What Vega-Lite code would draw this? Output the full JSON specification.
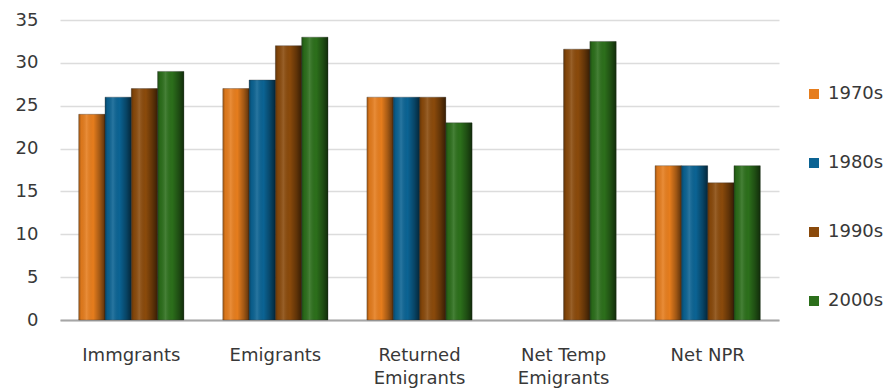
{
  "$schema": "https://vega.github.io/schema/vega-lite/v6.json",
  "autosize": {"type": "none"},
  "padding": {"left": 60, "top": 20, "right": 110, "bottom": 68},
  "width": 719,
  "height": 300,
  "background": "white",
  "config": {
    "view": {"stroke": null},
    "font": "DejaVu Sans"
  },
  "data": {
    "values": [
      {"category": "Immgrants", "decade": "1970s", "value": 24},
      {"category": "Immgrants", "decade": "1980s", "value": 26},
      {"category": "Immgrants", "decade": "1990s", "value": 27},
      {"category": "Immgrants", "decade": "2000s", "value": 29},
      {"category": "Emigrants", "decade": "1970s", "value": 27},
      {"category": "Emigrants", "decade": "1980s", "value": 28},
      {"category": "Emigrants", "decade": "1990s", "value": 32},
      {"category": "Emigrants", "decade": "2000s", "value": 33},
      {"category": "Returned Emigrants", "decade": "1970s", "value": 26},
      {"category": "Returned Emigrants", "decade": "1980s", "value": 26},
      {"category": "Returned Emigrants", "decade": "1990s", "value": 26},
      {"category": "Returned Emigrants", "decade": "2000s", "value": 23},
      {"category": "Net Temp Emigrants", "decade": "1990s", "value": 31.6},
      {"category": "Net Temp Emigrants", "decade": "2000s", "value": 32.5},
      {"category": "Net NPR", "decade": "1970s", "value": 18},
      {"category": "Net NPR", "decade": "1980s", "value": 18},
      {"category": "Net NPR", "decade": "1990s", "value": 16},
      {"category": "Net NPR", "decade": "2000s", "value": 18}
    ]
  },
  "encoding": {
    "x": {
      "field": "category",
      "type": "nominal",
      "sort": ["Immgrants", "Emigrants", "Returned Emigrants", "Net Temp Emigrants", "Net NPR"],
      "scale": {"paddingInner": 0.27, "paddingOuter": 0.13},
      "axis": {
        "title": null,
        "labelAngle": 0,
        "labelFontSize": 18,
        "labelColor": "#383838",
        "labelPadding": 35,
        "labelLineHeight": 23,
        "labelBaseline": "middle",
        "ticks": false,
        "domainColor": "#a6a6a6",
        "domainWidth": 2,
        "labelExpr": "datum.label == 'Returned Emigrants' ? ['Returned', 'Emigrants'] : datum.label == 'Net Temp Emigrants' ? ['Net Temp', 'Emigrants'] : datum.label"
      }
    },
    "xOffset": {
      "field": "decade",
      "type": "nominal",
      "scale": {"domain": ["1970s", "1980s", "1990s", "2000s"], "paddingInner": 0, "paddingOuter": 0}
    },
    "y": {
      "field": "value",
      "type": "quantitative",
      "scale": {"domain": [0, 35], "nice": false},
      "axis": {
        "title": null,
        "values": [0, 5, 10, 15, 20, 25, 30, 35],
        "labelFontSize": 18,
        "labelColor": "#383838",
        "labelPadding": 22,
        "ticks": false,
        "domain": false,
        "gridColor": "#dcdcdc",
        "gridWidth": 1.5
      }
    }
  },
  "layer": [
    {
      "mark": {"type": "bar", "stroke": "#3a3a3a", "strokeOpacity": 0.35, "strokeWidth": 1},
      "encoding": {
        "color": {
          "field": "decade",
          "type": "nominal",
          "scale": {"domain": ["1970s", "1980s", "1990s", "2000s"], "range": ["#e67d1d", "#0b6393", "#8a4a0b", "#2c6f1b"]},
          "legend": {
            "title": null,
            "orient": "none",
            "legendX": 745,
            "legendY": 65,
            "symbolType": "square",
            "symbolSize": 100,
            "symbolStrokeWidth": 0,
            "labelFontSize": 18,
            "labelColor": "#383838",
            "labelOffset": 5,
            "rowPadding": 51
          }
        }
      }
    },
    {
      "mark": {
        "type": "bar",
        "fill": {
          "gradient": "linear",
          "x1": 0, "y1": 0, "x2": 1, "y2": 0,
          "stops": [
            {"offset": 0, "color": "rgba(0,0,0,0.3)"},
            {"offset": 0.1, "color": "rgba(0,0,0,0.05)"},
            {"offset": 0.3, "color": "rgba(255,255,255,0.12)"},
            {"offset": 0.55, "color": "rgba(0,0,0,0.0)"},
            {"offset": 0.8, "color": "rgba(0,0,0,0.3)"},
            {"offset": 1, "color": "rgba(0,0,0,0.6)"}
          ]
        }
      }
    }
  ]
}
